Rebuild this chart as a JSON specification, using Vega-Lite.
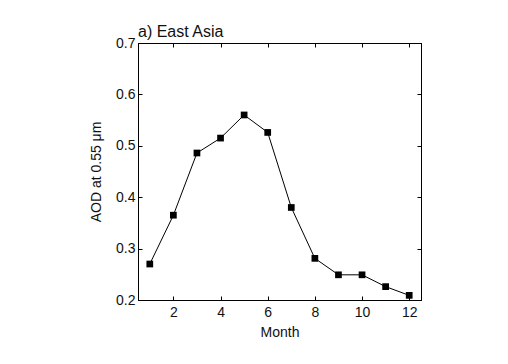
{
  "$schema": "https://vega.github.io/schema/vega-lite/v6.json",
  "autosize": "none",
  "width": 283,
  "height": 257,
  "padding": {"left": 138, "top": 43, "right": 87, "bottom": 64},
  "background": "white",
  "title": {"text": "a) East Asia", "anchor": "start", "frame": "group", "offset": -4, "font": "Liberation Sans", "fontSize": 16, "fontWeight": "normal", "color": "#111"},
  "data": {"values": [
    {"month": 1, "aod": 0.270},
    {"month": 2, "aod": 0.365},
    {"month": 3, "aod": 0.486},
    {"month": 4, "aod": 0.515},
    {"month": 5, "aod": 0.560},
    {"month": 6, "aod": 0.526},
    {"month": 7, "aod": 0.380},
    {"month": 8, "aod": 0.281},
    {"month": 9, "aod": 0.249},
    {"month": 10, "aod": 0.249},
    {"month": 11, "aod": 0.226},
    {"month": 12, "aod": 0.209}
  ]},
  "config": {
    "view": {"stroke": "#000", "strokeWidth": 1},
    "axis": {"grid": false, "domainColor": "#000", "tickColor": "#000", "tickSize": -4, "labelFont": "Liberation Sans", "labelFontSize": 14, "labelColor": "#111", "titleFont": "Liberation Sans", "titleFontSize": 14, "titleFontWeight": "normal", "titleColor": "#111"}
  },
  "resolve": {"axis": {"x": "independent", "y": "independent"}},
  "layer": [
    {
      "mark": {"type": "line", "color": "#000", "strokeWidth": 1},
      "encoding": {
        "x": {"field": "month", "type": "quantitative", "scale": {"domain": [0.5, 12.5], "nice": false, "zero": false},
          "axis": {"values": [2, 4, 6, 8, 10, 12], "title": "Month", "labelPadding": 9, "titlePadding": 6}},
        "y": {"field": "aod", "type": "quantitative", "scale": {"domain": [0.2, 0.7], "nice": false, "zero": false},
          "axis": {"values": [0.2, 0.3, 0.4, 0.5, 0.6, 0.7], "format": ".1f", "title": "AOD at 0.55 μm", "labelPadding": 7, "titlePadding": 12}}
      }
    },
    {
      "mark": {"type": "point", "shape": "square", "filled": true, "color": "#000", "size": 45, "opacity": 1},
      "encoding": {
        "x": {"field": "month", "type": "quantitative", "scale": {"domain": [0.5, 12.5], "nice": false, "zero": false},
          "axis": {"orient": "top", "values": [2, 4, 6, 8, 10, 12], "labels": false, "title": null}},
        "y": {"field": "aod", "type": "quantitative", "scale": {"domain": [0.2, 0.7], "nice": false, "zero": false},
          "axis": {"orient": "right", "values": [0.2, 0.3, 0.4, 0.5, 0.6, 0.7], "labels": false, "title": null}}
      }
    }
  ]
}
